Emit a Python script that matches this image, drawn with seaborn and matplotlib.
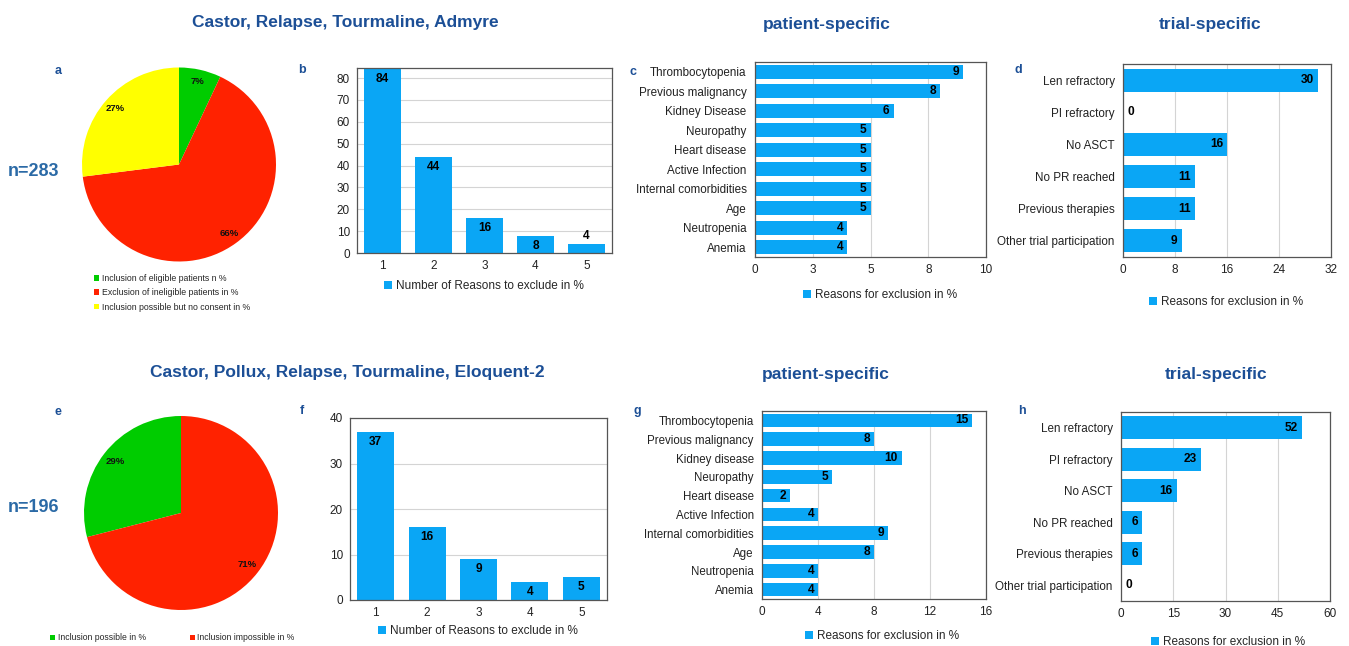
import matplotlib
matplotlib.use("Agg")
import matplotlib.pyplot as plt
from matplotlib.patches import Patch
import seaborn as sns

# ---------------- data ----------------
pie_a_labels = ["Inclusion of eligible patients n %",
                "Exclusion of ineligible patients in %",
                "Inclusion possible but no consent in %"]
pie_a_values = [7, 66, 27]
pie_e_labels = ["Inclusion possible in %", "Inclusion impossible in %"]
pie_e_values = [29, 71]

n_reasons = ["1", "2", "3", "4", "5"]
b_values = [84, 44, 16, 8, 4]
f_values = [37, 16, 9, 4, 5]

patient_cats_top = ["Thrombocytopenia", "Previous malignancy", "Kidney Disease",
                    "Neuropathy", "Heart disease", "Active Infection",
                    "Internal comorbidities", "Age", "Neutropenia", "Anemia"]
c_values = [9, 8, 6, 5, 5, 5, 5, 5, 4, 4]
patient_cats_bottom = ["Thrombocytopenia", "Previous malignancy", "Kidney disease",
                       "Neuropathy", "Heart disease", "Active Infection",
                       "Internal comorbidities", "Age", "Neutropenia", "Anemia"]
g_values = [15, 8, 10, 5, 2, 4, 9, 8, 4, 4]

trial_cats = ["Len refractory", "PI refractory", "No ASCT", "No PR reached",
              "Previous therapies", "Other trial participation"]
d_values = [30, 0, 16, 11, 11, 9]
h_values = [52, 23, 16, 6, 6, 0]

b_ticks = [0, 10, 20, 30, 40, 50, 60, 70, 80]
f_ticks = [0, 10, 20, 30, 40]
c_ticks = [0, 2.5, 5, 7.5, 10]
c_tick_labels = ["0", "3", "5", "8", "10"]
d_ticks = [0, 8, 16, 24, 32]
g_ticks = [0, 4, 8, 12, 16]
h_ticks = [0, 15, 30, 45, 60]

bar_legend_b = "Number of Reasons to exclude in %"
bar_legend_c = "Reasons for exclusion in %"

# ---------------- style ----------------
sns.set_style("white")
plt.rcParams["font.family"] = ["Liberation Sans", "DejaVu Sans"]

W, H = 1349, 646
fig = plt.figure(figsize=(W / 100, H / 100), dpi=100)

BAR = "#0aa6f5"
TITLE = "#1c4f96"
NCOL = "#2b6aa6"
GRID = "#d4d4d4"
FRAME = "#555555"
TXT = "#222222"
pie_a_colors = ["#00cc00", "#ff2200", "#ffff00"]
pie_e_colors = ["#00cc00", "#ff2200"]


def px_axes(l, t, r, b):
    return fig.add_axes([l / W, 1 - b / H, (r - l) / W, (b - t) / H])


def fig_xy(x, y):
    return (x / W, 1 - y / H)


def style_frame(ax):
    for s in ax.spines.values():
        s.set_visible(True)
        s.set_color(FRAME)
        s.set_linewidth(0.9)
    ax.tick_params(length=0, labelsize=8.5, colors=TXT, pad=5)
    ax.set_axisbelow(True)
    ax.set_xlabel("")
    ax.set_ylabel("")


def bar_legend(ax, text, x, y):
    h = Patch(facecolor=BAR, edgecolor="none", label=text)
    ax.legend(handles=[h], loc="center", bbox_to_anchor=fig_xy(x, y),
              bbox_transform=fig.transFigure, frameon=False, fontsize=8.5,
              handlelength=0.7, handleheight=0.7, handletextpad=0.3,
              borderpad=0, borderaxespad=0)


def vbar(ax, values, ticks, ymax, legend_text, lx, ly):
    sns.barplot(x=n_reasons, y=values, color=BAR, saturation=1, width=0.72,
                linewidth=0, ax=ax)
    ax.set_ylim(0, ymax)
    ax.set_yticks(ticks)
    ax.grid(axis="y", color=GRID, lw=0.8)
    style_frame(ax)
    for p, v in zip(ax.patches, values):
        xc = p.get_x() + p.get_width() / 2
        if v / ymax < 0.07:
            ax.annotate(str(v), (xc, v), xytext=(0, 2), textcoords="offset pixels",
                        ha="center", va="bottom", fontsize=8.6, fontweight="bold", color="black")
        else:
            ax.annotate(str(v), (xc, v), xytext=(0, -10), textcoords="offset pixels",
                        ha="center", va="center", fontsize=8.6, fontweight="bold", color="black")
    bar_legend(ax, legend_text, lx, ly)


def hbar(ax, cats, values, ticks, tick_labels, xmax, lx, ly, fs=8.4):
    sns.barplot(x=values, y=cats, color=BAR, saturation=1, width=0.72,
                orient="h", linewidth=0, ax=ax)
    ax.set_xlim(0, xmax)
    ax.set_xticks(ticks)
    ax.set_xticklabels(tick_labels)
    ax.grid(axis="x", color=GRID, lw=0.8)
    style_frame(ax)
    ax.tick_params(axis="y", labelsize=fs, pad=6)
    for p, v in zip(ax.patches, values):
        yc = p.get_y() + p.get_height() / 2
        if v > 0:
            ax.annotate(str(v), (v, yc), xytext=(-4, 0), textcoords="offset pixels",
                        ha="right", va="center", fontsize=8.6, fontweight="bold", color="black")
        else:
            ax.annotate(str(v), (v, yc), xytext=(5, 0), textcoords="offset pixels",
                        ha="left", va="center", fontsize=8.6, fontweight="bold", color="black")
    bar_legend(ax, bar_legend_c, lx, ly)


def pie(ax, values, colors, counterclock, pctd):
    wedges, _, autotexts = ax.pie(values, colors=colors, startangle=90,
                                  counterclock=counterclock, pctdistance=pctd,
                                  autopct=lambda p: f"{p:.0f}%",
                                  wedgeprops=dict(linewidth=0),
                                  textprops=dict(fontsize=6.8, fontweight="bold", color="#111"))
    ax.set_xlim(-1, 1)
    ax.set_ylim(-1, 1)
    ax.set_aspect("equal")
    return wedges


# ---------------- top row ----------------
ax_a = px_axes(82, 67.5, 276, 261.5)
w_a = pie(ax_a, pie_a_values, pie_a_colors, False, 0.88)
ax_a.legend(w_a, pie_a_labels, loc="upper left", bbox_to_anchor=fig_xy(94, 274),
            bbox_transform=fig.transFigure, frameon=False, fontsize=6.3,
            handlelength=0.6, handleheight=0.6, handletextpad=0.3,
            labelspacing=0.6, borderpad=0, borderaxespad=0)

ax_b = px_axes(357, 68, 612, 253)
vbar(ax_b, b_values, b_ticks, 84.6, bar_legend_b, 484, 286)

ax_c = px_axes(755, 62, 986, 257)
hbar(ax_c, patient_cats_top, c_values, c_ticks, c_tick_labels, 10, 880, 295)

ax_d = px_axes(1123, 64, 1331, 257)
hbar(ax_d, trial_cats, d_values, d_ticks, [str(t) for t in d_ticks], 32, 1226, 302)

# ---------------- bottom row ----------------
ax_e = px_axes(84, 416, 278, 610)
w_e = pie(ax_e, pie_e_values, pie_e_colors, True, 0.86)
ax_e.legend(w_e, pie_e_labels, loc="center left", bbox_to_anchor=fig_xy(50, 638),
            bbox_transform=fig.transFigure, frameon=False, fontsize=6.2, ncol=2,
            handlelength=0.6, handleheight=0.6, handletextpad=0.3,
            columnspacing=5.1, borderpad=0, borderaxespad=0)

ax_f = px_axes(350, 418, 607, 600)
vbar(ax_f, f_values, f_ticks, 40, bar_legend_b, 478, 631)

ax_g = px_axes(762, 411, 986, 599)
hbar(ax_g, patient_cats_bottom, g_values, g_ticks, [str(t) for t in g_ticks], 16, 882, 636, fs=8.3)

ax_h = px_axes(1121, 412, 1330, 601)
hbar(ax_h, trial_cats, h_values, h_ticks, [str(t) for t in h_ticks], 60, 1228, 642)

# ---------------- titles and annotations ----------------
def ftext(x, y, s, size, color, ha="center"):
    fig.text(x / W, 1 - y / H, s, ha=ha, va="center", fontsize=size,
             fontweight="bold", color=color)

ftext(345, 22, "Castor, Relapse, Tourmaline, Admyre", 12.5, TITLE)
ftext(827, 25, "patient-specific", 12.5, TITLE)
ftext(1210, 25, "trial-specific", 12.5, TITLE)
ftext(347, 373, "Castor, Pollux, Relapse, Tourmaline, Eloquent-2", 12.5, TITLE)
ftext(826, 375, "patient-specific", 12.5, TITLE)
ftext(1216, 375, "trial-specific", 12.5, TITLE)

ftext(8, 172, "n=283", 13, NCOL, ha="left")
ftext(8, 507, "n=196", 13, NCOL, ha="left")

for letter, x, y in [("a", 58, 71), ("b", 302, 70), ("c", 633, 72), ("d", 1018, 70),
                     ("e", 58, 412), ("f", 302, 411), ("g", 637, 411), ("h", 1022, 411)]:
    ftext(x, y, letter, 9, TITLE)

fig.savefig("out.png", dpi=100)
